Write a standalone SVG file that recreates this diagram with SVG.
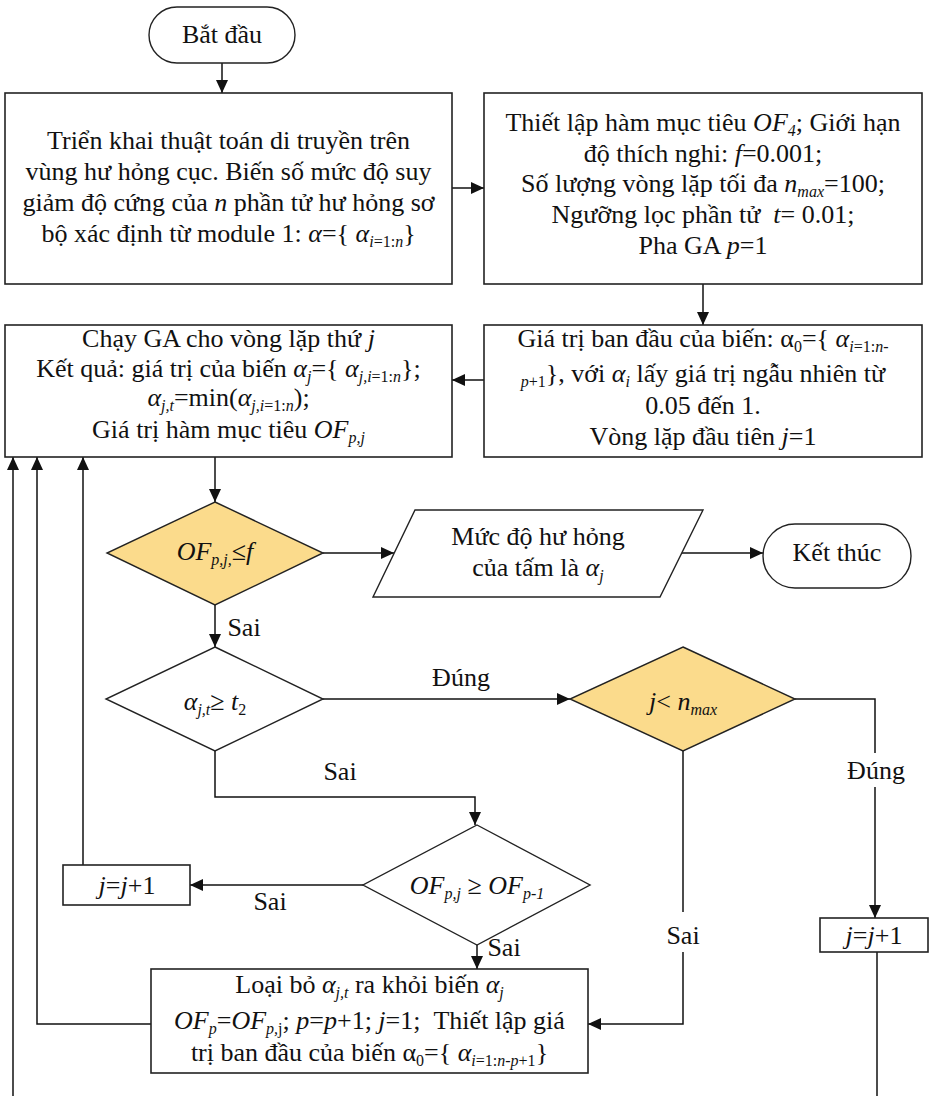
<svg xmlns="http://www.w3.org/2000/svg" width="929" height="1096" viewBox="0 0 929 1096">
<style>
text{font-family:"Liberation Serif","Times New Roman",serif;font-size:26px;fill:#111;text-anchor:middle}
.i{font-style:italic}
.s{font-size:16px;baseline-shift:-5px}
.box{fill:#fff;stroke:#222;stroke-width:1.6}
.gold{fill:#FBDB8C;stroke:#222;stroke-width:1.4}
.wd{fill:#fff;stroke:#222;stroke-width:1.4}
.c{fill:none;stroke:#111;stroke-width:1.5}
</style>
<defs>
<marker id="a" markerUnits="userSpaceOnUse" markerWidth="13" markerHeight="12" refX="13" refY="6" orient="auto">
<path d="M0,0 L13,6 L0,12 z" fill="#111"/>
</marker>
</defs>

<g id="connectors">
<path class="c" d="M222,63 V93" marker-end="url(#a)"/>
<path class="c" d="M452,188 H484" marker-end="url(#a)"/>
<path class="c" d="M703,284 V325" marker-end="url(#a)"/>
<path class="c" d="M484,380 H452" marker-end="url(#a)"/>
<path class="c" d="M215,457 V502" marker-end="url(#a)"/>
<path class="c" d="M323,553 H394" marker-end="url(#a)"/>
<path class="c" d="M682,553 H763" marker-end="url(#a)"/>
<path class="c" d="M215,605 V647" marker-end="url(#a)"/>
<path class="c" d="M323,699 H570" marker-end="url(#a)"/>
<path class="c" d="M795,699 H875 V753"/>
<path class="c" d="M875,787 V918" marker-end="url(#a)"/>
<path class="c" d="M215,751 V797 H475 V825" marker-end="url(#a)"/>
<path class="c" d="M363,885 H190" marker-end="url(#a)"/>
<path class="c" d="M83,865 V457" marker-end="url(#a)"/>
<path class="c" d="M477,945 V969" marker-end="url(#a)"/>
<path class="c" d="M683,751 V912"/>
<path class="c" d="M683,952 V1024 H588" marker-end="url(#a)"/>
<path class="c" d="M151,1024 H37 V457" marker-end="url(#a)"/>
<path class="c" d="M13,1096 V457" marker-end="url(#a)"/>
<path class="c" d="M877,952 V1096"/>
<text x="244" y="636">Sai</text>
<text x="461" y="686">Đúng</text>
<text x="876" y="779">Đúng</text>
<text x="340" y="780">Sai</text>
<text x="270" y="910">Sai</text>
<text x="504" y="956">Sai</text>
<text x="683" y="944">Sai</text>
</g>

<g id="start">
<rect x="149" y="7" width="146" height="56" rx="28" class="wd"/>
<text x="222" y="43">Bắt đầu</text>
</g>

<g id="box1">
<rect x="5" y="93" width="447" height="191" class="box"/>
<text x="228.5" y="149">Triển khai thuật toán di truyền trên</text>
<text x="228.5" y="180">vùng hư hỏng cục. Biến số mức độ suy</text>
<text x="228.5" y="211">giảm độ cứng của <tspan class="i">n</tspan> phần tử hư hỏng sơ</text>
<text x="228.5" y="242">bộ xác định từ module 1: <tspan class="i">α</tspan>={ <tspan class="i">α</tspan><tspan class="s i">i</tspan><tspan class="s">=1:</tspan><tspan class="s i">n</tspan>}</text>
</g>

<g id="box2">
<rect x="484" y="93" width="438" height="191" class="box"/>
<text x="703" y="131">Thiết lập hàm mục tiêu <tspan class="i">OF</tspan><tspan class="s i">4</tspan>; Giới hạn</text>
<text x="703" y="162">độ thích nghi: <tspan class="i">f</tspan>=0.001;</text>
<text x="703" y="192">Số lượng vòng lặp tối đa <tspan class="i">n</tspan><tspan class="s i">max</tspan>=100;</text>
<text x="703" y="223">Ngưỡng lọc phần tử &#160;<tspan class="i">t</tspan>= 0.01;</text>
<text x="703" y="254">Pha GA <tspan class="i">p</tspan>=1</text>
</g>

<g id="box3">
<rect x="484" y="325" width="438" height="132" class="box"/>
<text x="703" y="347">Giá trị ban đầu của biến: α<tspan class="s">0</tspan>={ <tspan class="i">α</tspan><tspan class="s i">i</tspan><tspan class="s">=1:</tspan><tspan class="s i">n</tspan><tspan class="s">-</tspan></text>
<text x="703" y="382"><tspan class="s i">p</tspan><tspan class="s">+1</tspan>}, với <tspan class="i">α</tspan><tspan class="s i">i</tspan> lấy giá trị ngẫu nhiên từ</text>
<text x="703" y="414">0.05 đến 1.</text>
<text x="703" y="445">Vòng lặp đầu tiên <tspan class="i">j</tspan>=1</text>
</g>

<g id="box4">
<rect x="5" y="325" width="447" height="132" class="box"/>
<text x="228.5" y="347">Chạy GA cho vòng lặp thứ <tspan class="i">j</tspan></text>
<text x="228.5" y="377">Kết quả: giá trị của biến <tspan class="i">α</tspan><tspan class="s i">j</tspan>={ <tspan class="i">α</tspan><tspan class="s i">j,i</tspan><tspan class="s">=1:</tspan><tspan class="s i">n</tspan>};</text>
<text x="228.5" y="406"><tspan class="i">α</tspan><tspan class="s i">j,t</tspan>=min(<tspan class="i">α</tspan><tspan class="s i">j,i</tspan><tspan class="s">=1:</tspan><tspan class="s i">n</tspan>);</text>
<text x="228.5" y="438">Giá trị hàm mục tiêu <tspan class="i">OF</tspan><tspan class="s i">p,j</tspan></text>
</g>

<g id="decision1">
<polygon points="215,502 323,553 215,605 107,553" class="gold"/>
<text x="215" y="560"><tspan class="i">OF</tspan><tspan class="s i">p,j,</tspan>≤<tspan class="i">f</tspan></text>
</g>

<g id="output">
<polygon points="415,510 703,510 660,597 373,597" class="wd"/>
<text x="538" y="545">Mức độ hư hỏng</text>
<text x="538" y="576">của tấm là <tspan class="i">α</tspan><tspan class="s i">j</tspan></text>
</g>

<g id="end">
<rect x="763" y="524" width="148" height="64" rx="32" class="wd"/>
<text x="837" y="561">Kết thúc</text>
</g>

<g id="decision2">
<polygon points="215,647 323,699 215,751 106,699" class="wd"/>
<text x="215" y="710"><tspan class="i">α</tspan><tspan class="s i">j,t</tspan>≥ <tspan class="i">t</tspan><tspan class="s">2</tspan></text>
</g>

<g id="decision3">
<polygon points="683,647 795,699 683,751 570,699" class="gold"/>
<text x="683" y="710"><tspan class="i">j</tspan>&lt; <tspan class="i">n</tspan><tspan class="s i">max</tspan></text>
</g>

<g id="decision4">
<polygon points="477,825 590,885 477,945 363,885" class="wd"/>
<text x="477" y="894"><tspan class="i">OF</tspan><tspan class="s i">p,j</tspan> ≥ <tspan class="i">OF</tspan><tspan class="s i">p-1</tspan></text>
</g>

<g id="inc-left">
<rect x="63" y="865" width="127" height="40" class="box"/>
<text x="127" y="894"><tspan class="i">j</tspan>=<tspan class="i">j</tspan>+1</text>
</g>

<g id="inc-right">
<rect x="820" y="918" width="108" height="34" class="box"/>
<text x="874" y="944"><tspan class="i">j</tspan>=<tspan class="i">j</tspan>+1</text>
</g>

<g id="box5">
<rect x="151" y="969" width="437" height="104" class="box"/>
<text x="369.5" y="993">Loại bỏ <tspan class="i">α</tspan><tspan class="s i">j,t</tspan> ra khỏi biến <tspan class="i">α</tspan><tspan class="s i">j</tspan></text>
<text x="369.5" y="1029"><tspan class="i">OF</tspan><tspan class="s i">p</tspan>=<tspan class="i">OF</tspan><tspan class="s i">p,</tspan><tspan class="s">j</tspan>; <tspan class="i">p</tspan>=<tspan class="i">p</tspan>+1; <tspan class="i">j</tspan>=1; &#160;Thiết lập giá</text>
<text x="369.5" y="1061">trị ban đầu của biến α<tspan class="s">0</tspan>={ <tspan class="i">α</tspan><tspan class="s i">i</tspan><tspan class="s">=1:</tspan><tspan class="s i">n-p</tspan><tspan class="s">+1</tspan>}</text>
</g>
</svg>
